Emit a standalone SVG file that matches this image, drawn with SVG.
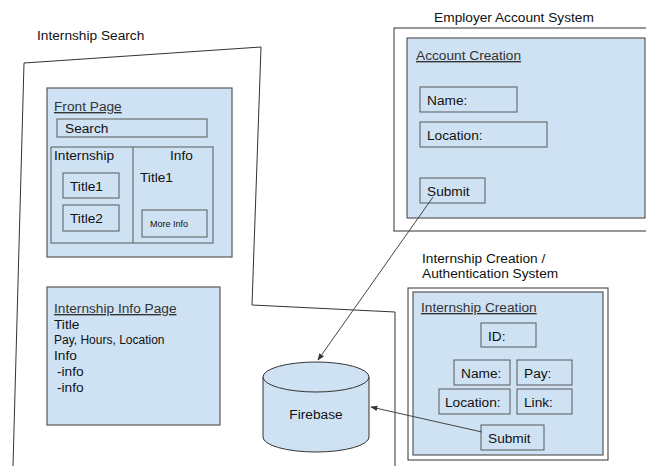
<svg xmlns="http://www.w3.org/2000/svg" width="646" height="466" viewBox="0 0 646 466">
  <defs>
    <marker id="arrow" viewBox="0 0 10 10" refX="9" refY="5" markerWidth="7" markerHeight="7" orient="auto" markerUnits="userSpaceOnUse">
      <path d="M0,1 L10,5 L0,9 z" fill="#333"/>
    </marker>
    <style>
      text { font-family: "Liberation Sans", Arial, sans-serif; font-size: 13.7px; fill: #111; }
      .frame { fill: #fff; stroke: #333; stroke-width: 1; }
      .panel { fill: #cfe2f3; stroke: #595959; stroke-width: 1.2; }
      .field { fill: #cfe2f3; stroke: #595959; stroke-width: 1; }
      .heading { text-decoration: underline; fill: #333; }
      .small { font-size: 12px; }
      .tiny { font-size: 9px; }
      .link { fill: none; stroke: #444; stroke-width: 1; marker-end: url(#arrow); }
    </style>
  </defs>

  <rect width="646" height="466" fill="#fff"/>

  <!-- Internship Search system -->
  <g id="internship-search">
    <text x="37" y="40">Internship Search</text>
    <polyline points="13,466 24,63 261,47 252,305 395,312 395,466" fill="none" stroke="#333" stroke-width="1"/>
  </g>

  <g id="front-page">
    <rect class="panel" x="47" y="88" width="185" height="169"/>
    <text class="heading" x="54" y="111">Front Page</text>
    <rect class="field" x="57" y="119" width="150" height="18"/>
    <text x="65" y="133">Search</text>
    <rect class="field" x="51" y="147" width="162" height="96"/>
    <line x1="133" y1="147" x2="133" y2="243" stroke="#595959" stroke-width="1"/>
    <text x="54" y="160">Internship</text>
    <text x="170" y="160">Info</text>
    <rect class="field" x="63" y="173" width="56" height="25"/>
    <text x="70" y="191">Title1</text>
    <rect class="field" x="63" y="205" width="56" height="26"/>
    <text x="70" y="223">Title2</text>
    <text x="140" y="182">Title1</text>
    <rect class="field" x="142" y="210" width="65" height="27" stroke-width="2" stroke="#444"/>
    <text class="tiny" x="150" y="227">More Info</text>
  </g>

  <g id="internship-info-page">
    <rect class="panel" x="47" y="287" width="173" height="138"/>
    <text class="heading" x="54" y="313">Internship Info Page</text>
    <text x="54" y="329">Title</text>
    <text class="small" x="54" y="344">Pay, Hours, Location</text>
    <text x="54" y="360">Info</text>
    <text x="57" y="376">-info</text>
    <text x="57" y="392">-info</text>
  </g>

  <!-- Employer Account System -->
  <g id="employer-account">
    <text x="514" y="22" text-anchor="middle">Employer Account System</text>
    <rect class="frame" x="394" y="28" width="260" height="203"/>
    <rect class="panel" x="407" y="38" width="238" height="180"/>
    <text class="heading" x="416" y="60">Account Creation</text>
    <rect class="field" x="420" y="87" width="97" height="25"/>
    <text x="427" y="105">Name:</text>
    <rect class="field" x="420" y="122" width="127" height="25"/>
    <text x="427" y="140">Location:</text>
    <rect class="field" x="420" y="178" width="65" height="25"/>
    <text x="427" y="196">Submit</text>
  </g>

  <!-- Internship Creation / Authentication System -->
  <g id="internship-creation">
    <text x="422" y="263">Internship Creation /</text>
    <text x="422" y="278">Authentication System</text>
    <rect class="frame" x="408" y="288" width="200" height="172"/>
    <rect class="panel" x="413" y="292" width="190" height="163"/>
    <text class="heading" x="421" y="312">Internship Creation</text>
    <rect class="field" x="481" y="323" width="55" height="24"/>
    <text x="488" y="341">ID:</text>
    <rect class="field" x="454" y="360" width="56" height="25"/>
    <text x="461" y="378">Name:</text>
    <rect class="field" x="517" y="360" width="55" height="25"/>
    <text x="524" y="378">Pay:</text>
    <rect class="field" x="439" y="389" width="71" height="25"/>
    <text x="445" y="407">Location:</text>
    <rect class="field" x="517" y="389" width="55" height="25"/>
    <text x="524" y="407">Link:</text>
    <rect class="field" x="481" y="425" width="63" height="25"/>
    <text x="488" y="443">Submit</text>
  </g>

  <!-- Firebase datastore -->
  <g id="firebase">
    <path d="M263,377 L263,437 A53,15 0 0 0 369,437 L369,377" fill="#cfe2f3" stroke="#333" stroke-width="1"/>
    <ellipse cx="316" cy="377" rx="53" ry="15" fill="#cfe2f3" stroke="#333" stroke-width="1"/>
    <text x="316" y="419" text-anchor="middle">Firebase</text>
  </g>

  <g id="connectors">
    <line class="link" x1="433" y1="197" x2="318" y2="360"/>
    <line class="link" x1="482" y1="432" x2="371" y2="407"/>
  </g>
</svg>
